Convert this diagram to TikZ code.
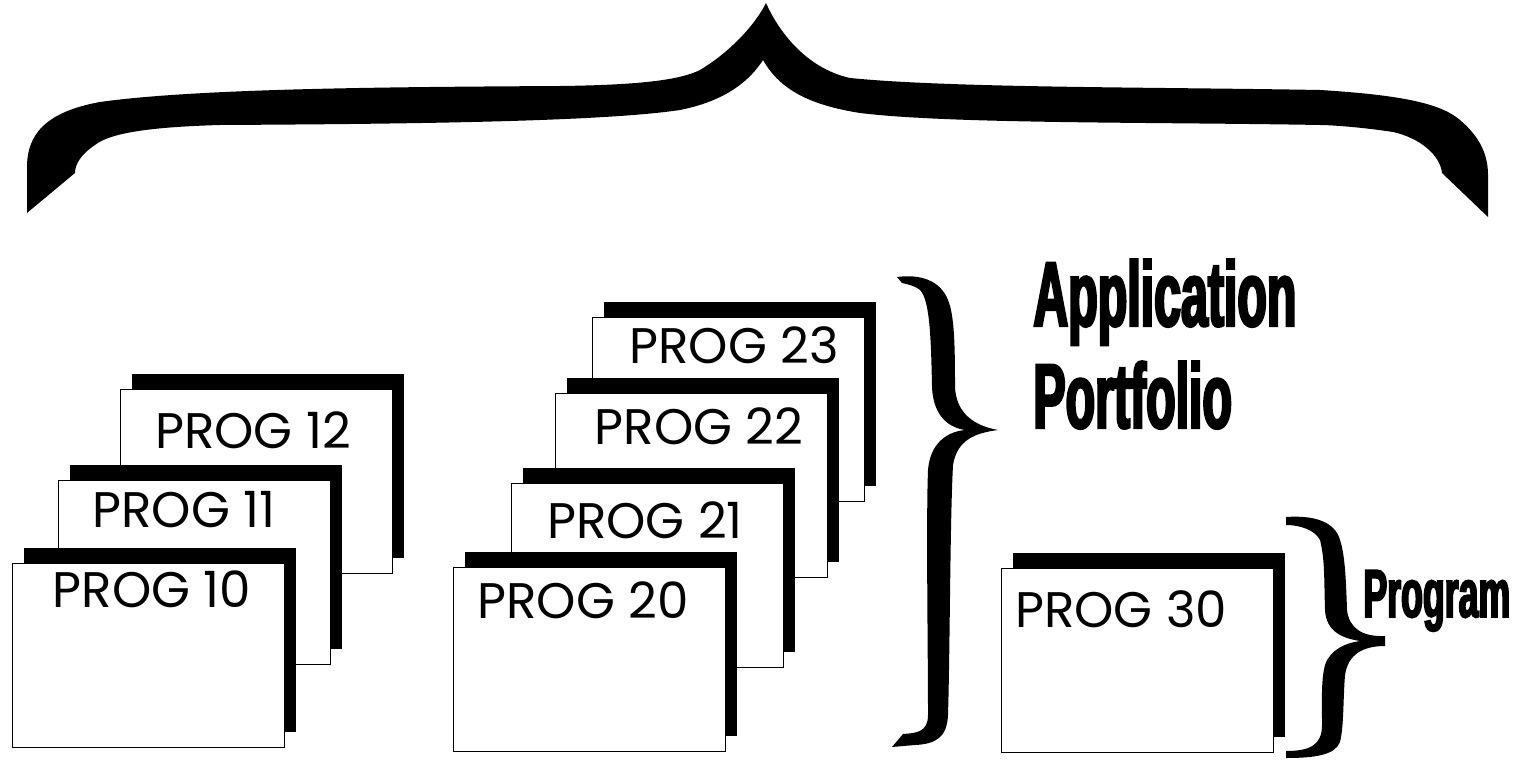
\documentclass[tikz,border=0pt]{standalone}
\usepackage{fontspec}
\setmainfont{Poppins}
\newfontfamily\headfont{Liberation Sans}[FakeStretch=0.525,FakeBold=2.6]
\usetikzlibrary{shadows}

\begin{document}
\begin{tikzpicture}[x=0.5pt, y=-0.5pt]

\tikzset{
  card/.style     = {draw=black, line width=0.6pt, fill=white, anchor=north west,
                     minimum width=136pt, minimum height=92pt, inner sep=0pt,
                     drop shadow={shadow xshift=5.5pt, shadow yshift=8pt, fill=black, opacity=1}},
  progtext/.style = {font=\fontsize{25}{28}\selectfont, anchor=base, inner sep=0pt},
  headtext/.style = {font=\headfont\bfseries\fontsize{46}{50}\selectfont, anchor=base west, inner sep=0pt},
  brace/.style    = {fill=black, draw=none},
}

\useasboundingbox (0,0) rectangle (1518,764);

%% ---------- first stack ----------
\node[card] (p12) at (120,389) {};
\node[progtext] (t12) at (253,448) {PROG 12};
\node[card] (p11) at (58,480) {};
\node[progtext] (t11) at (184,527) {PROG 11};
\node[card] (p10) at (12,563) {};
\node[progtext] (t10) at (152,607) {PROG 10};

%% ---------- second stack ----------
\node[card] (p23) at (592,317) {};
\node[progtext] (t23) at (734,363) {PROG 23};
\node[card] (p22) at (555,393) {};
\node[progtext] (t22) at (699,444) {PROG 22};
\node[card] (p21) at (511,483) {};
\node[progtext] (t21) at (645,538) {PROG 21};
\node[card] (p20) at (453,567) {};
\node[progtext] (t20) at (583,618) {PROG 20};

%% ---------- single program ----------
\node[card] (p30) at (1001,568) {};
\node[progtext] (t30) at (1121,627) {PROG 30};

%% ---------- big brace over everything ----------
\fill[brace] (27,213) -- (27,167)
  .. controls (27,135) and (45,112) .. (100,102)
  .. controls (200,88) and (400,87) .. (560,86)
  .. controls (640,85) and (680,80) .. (700,70)
  .. controls (730,52) and (755,25) .. (766,3)
  .. controls (778,30) and (805,68) .. (850,78)
  .. controls (950,88) and (1150,87) .. (1320,90)
  .. controls (1400,95) and (1440,103) .. (1460,120)
  .. controls (1480,137) and (1488,155) .. (1488,175)
  -- (1488,217) -- (1442,173)
  .. controls (1440,155) and (1420,138) .. (1393,132)
  .. controls (1360,127) and (1330,125) .. (1320,125)
  .. controls (1150,122) and (950,124) .. (860,113)
  .. controls (810,105) and (780,90) .. (763,60)
  .. controls (745,88) and (715,103) .. (680,110)
  .. controls (600,122) and (400,124) .. (220,125)
  .. controls (150,127) and (110,133) .. (95,145)
  .. controls (80,155) and (75,165) .. (75,173) -- cycle;

%% ---------- portfolio brace ----------
\fill[brace] (897,277)
  .. controls (920,274) and (940,280) .. (948,300)
  .. controls (954,315) and (955,340) .. (955,387)
  .. controls (956,410) and (970,425) .. (998,430)
  .. controls (975,433) and (957,440) .. (953,465)
  .. controls (950,520) and (950,650) .. (948,715)
  .. controls (947,738) and (935,744) .. (915,745)
  -- (892,747) -- (903,734)
  .. controls (915,733) and (928,733) .. (928,715)
  .. controls (928,650) and (926,520) .. (928,470)
  .. controls (930,445) and (945,432) .. (965,430)
  .. controls (945,427) and (933,412) .. (932,387)
  .. controls (931,340) and (930,300) .. (920,290)
  .. controls (914,285) and (905,284) .. (902,283) -- cycle;

\node[headtext] (app)  at (1033,326) {Application};
\node[headtext] (port) at (1033,428) {Portfolio};

%% ---------- program brace ----------
\fill[brace] (1286,517)
  .. controls (1315,515) and (1335,522) .. (1340,540)
  .. controls (1345,555) and (1346,580) .. (1347,610)
  .. controls (1349,628) and (1362,637) .. (1385,636)
  -- (1385,646)
  .. controls (1362,646) and (1348,655) .. (1345,675)
  .. controls (1343,700) and (1344,725) .. (1340,742)
  .. controls (1335,755) and (1315,758) .. (1286,758)
  -- (1286,751)
  .. controls (1310,751) and (1322,745) .. (1322,725)
  .. controls (1322,700) and (1321,680) .. (1325,665)
  .. controls (1330,650) and (1345,643) .. (1360,641)
  .. controls (1340,638) and (1326,630) .. (1325,610)
  .. controls (1324,580) and (1325,560) .. (1320,540)
  .. controls (1315,530) and (1300,525) .. (1286,525) -- cycle;

\node[headtext, font=\headfont\bfseries\fontsize{34}{38}\selectfont] (prog) at (1363,617) {Program};

\end{tikzpicture}
\end{document}
